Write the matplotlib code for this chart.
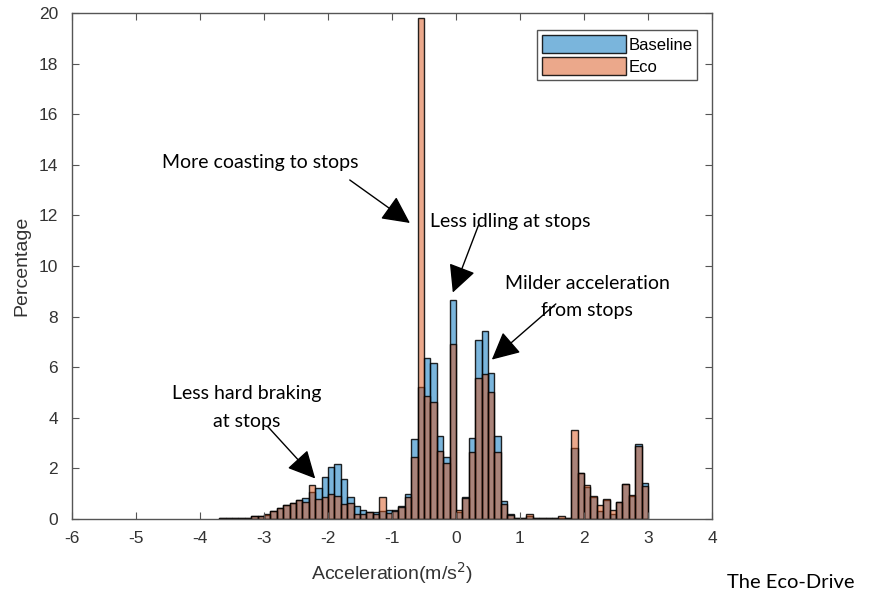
import numpy as np
import matplotlib
matplotlib.use('Agg')
import matplotlib.pyplot as plt

# histogram bins: left edges, width 0.1 m/s^2
bin_left = np.round(np.arange(-3.7, 2.95, 0.1), 1)
bin_width = 0.1

baseline = [0.05, 0.05, 0.05, 0.05, 0.05, 0.12, 0.12, 0.15, 0.30, 0.43,
            0.55, 0.65, 0.75, 0.82, 1.05, 1.22, 1.67, 2.05, 2.16, 1.58,
            0.87, 0.53, 0.36, 0.29, 0.29, 0.30, 0.36, 0.36, 0.53, 0.99,
            3.15, 5.23, 6.38, 6.15, 3.29, 2.46, 8.66, 0.26, 0.88, 3.22,
            7.08, 7.43, 5.78, 3.29, 0.72, 0.18, 0.05, 0.05, 0.10, 0.05,
            0.05, 0.05, 0.05, 0.05, 0.05, 2.82, 1.80, 1.28, 0.88, 0.32,
            0.75, 0.20, 0.67, 1.40, 0.92, 2.95, 1.41]
eco = [0.05, 0.05, 0.05, 0.05, 0.05, 0.12, 0.10, 0.20, 0.30, 0.43,
       0.55, 0.65, 0.75, 0.69, 1.35, 0.77, 0.88, 0.97, 0.90, 0.60,
       0.62, 0.20, 0.20, 0.26, 0.20, 0.88, 0.24, 0.32, 0.49, 0.86,
       2.45, 19.8, 4.86, 4.64, 2.70, 2.20, 6.90, 0.36, 0.82, 2.63,
       5.56, 5.73, 5.03, 2.63, 0.58, 0.15, 0.05, 0.05, 0.20, 0.05,
       0.05, 0.05, 0.05, 0.13, 0.05, 3.52, 1.83, 1.35, 0.91, 0.55,
       0.78, 0.36, 0.69, 1.40, 0.95, 2.90, 1.30]

fig = plt.figure(figsize=(8.79, 5.94), dpi=100)
ax = fig.add_axes([0.0819, 0.1263, 0.7281, 0.8518])

ax.bar(bin_left, baseline, width=bin_width, align='edge', facecolor=(0.0, 0.447, 0.741, 0.52),
       edgecolor=(0, 0, 0, 0.85), linewidth=1.0, label='Baseline')
ax.bar(bin_left, eco, width=bin_width, align='edge', facecolor=(0.851, 0.325, 0.098, 0.5),
       edgecolor=(0, 0, 0, 0.85), linewidth=1.0, label='Eco')

ax.set_xlim(-6, 4)
ax.set_ylim(0, 20)
ax.set_xticks(range(-6, 5))
ax.set_yticks(range(0, 21, 2))
tick_font = {'family': 'Liberation Sans', 'size': 12.5}
ax.set_xticklabels([str(t) for t in range(-6, 5)], fontdict=tick_font, color='#333333')
ax.set_yticklabels([str(t) for t in range(0, 21, 2)], fontdict=tick_font, color='#333333')
ax.tick_params(axis='x', direction='in', top=True, length=5, color='#555555', pad=9)
ax.tick_params(axis='y', direction='in', right=True, length=5, color='#555555', pad=10)
for sp in ax.spines.values():
    sp.set_color('#555555')
    sp.set_linewidth(1.0)

ax.set_xlabel('Acceleration(m/s$^2$)', family='Liberation Sans', fontsize=14, color='#333333',
              labelpad=10)
ax.set_ylabel('Percentage', family='Liberation Sans', fontsize=14, color='#333333', labelpad=6)

leg = ax.legend(loc='upper right', bbox_to_anchor=(0.977, 0.967), borderaxespad=0,
                fancybox=False, edgecolor='#555555', framealpha=1, handlelength=5.0,
                handleheight=1.35, handletextpad=0.15, borderpad=0.3, labelspacing=0.2,
                prop={'family': 'Liberation Sans', 'size': 12})
leg.get_frame().set_linewidth(1.0)

ann_font = {'family': 'Lato', 'size': 14, 'color': 'black'}
arrow = dict(arrowstyle='-|>,head_length=0.9,head_width=0.45', color='black', lw=1.0,
             shrinkA=0, shrinkB=0, mutation_scale=19)

ax.text(-3.06, 14.1, 'More coasting to stops', ha='center', va='center', **ann_font)
ax.annotate('', xy=(-0.72, 11.7), xytext=(-1.66, 13.4), arrowprops=arrow)

ax.text(0.84, 11.75, 'Less idling at stops', ha='center', va='center', **ann_font)
ax.annotate('', xy=(-0.05, 8.95), xytext=(0.35, 11.6), arrowprops=arrow)

ax.text(2.05, 8.78, 'Milder acceleration\nfrom stops', ha='center', va='center',
        linespacing=1.75, **ann_font)
ax.annotate('', xy=(0.56, 6.3), xytext=(1.56, 8.5), arrowprops=arrow)

ax.text(-3.27, 4.4, 'Less hard braking\nat stops', ha='center', va='center',
        linespacing=1.75, **ann_font)
ax.annotate('', xy=(-2.2, 1.6), xytext=(-2.94, 3.65), arrowprops=arrow)

fig.text(0.9, 0.02, 'The Eco-Drive', ha='center', va='center', family='Lato', fontsize=14.5)

fig.savefig('out.png', dpi=100)
